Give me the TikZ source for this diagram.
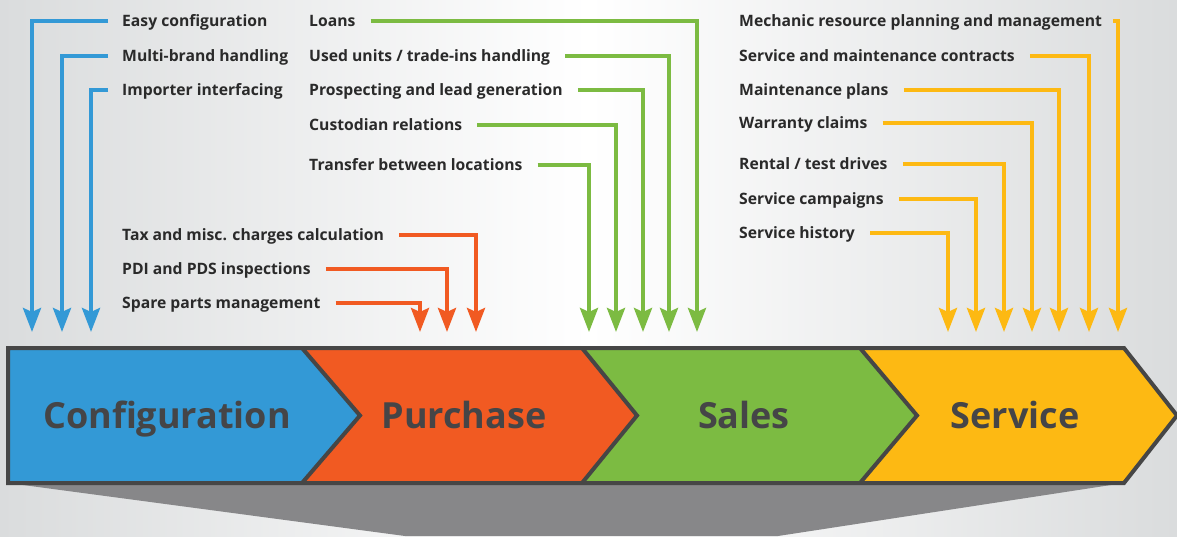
\documentclass[tikz,border=0pt]{standalone}
\usepackage{fontspec}
\setmainfont{Open Sans}
\usetikzlibrary{arrows.meta}
\definecolor{cblue}{HTML}{3399D6}
\definecolor{cred}{HTML}{F15A22}
\definecolor{cgreen}{HTML}{7CBB42}
\definecolor{cyellow}{HTML}{FDB913}
\definecolor{outl}{HTML}{464646}
\definecolor{shadowg}{HTML}{878789}
\definecolor{bgedge}{HTML}{DADCDD}
\definecolor{labtxt}{HTML}{2A2A2A}
\definecolor{headtxt}{HTML}{454547}
\begin{document}
\begin{tikzpicture}[x=1pt,y=-1pt,
  lab/.style={anchor=west, inner sep=0pt, font=\fontsize{15.7}{18}\selectfont\bfseries, text=labtxt, text height=11.2pt, text depth=0pt},
  conn/.style={line width=4pt, -{Stealth[length=24pt,width=18pt,inset=4pt]}},
  head/.style={inner sep=0pt, font=\fontsize{36}{40}\selectfont\bfseries, text=headtxt, text height=25.7pt, text depth=0pt},
  bar/.style={outl, line width=4pt, line join=miter}
]
\useasboundingbox (0,0) rectangle (1177,536);
\shade[left color=bgedge, right color=bgedge, middle color=white] (0,0) rectangle (1177,536);

% shadow below the bar
\fill[shadowg] (8,483) -- (1124,483) -- (778,536) -- (405,536) -- cycle;

% chevrons
\fill[cblue] (8,348) -- (302,348) -- (360,415.5) -- (302,483) -- (8,483) -- cycle;
\fill[cred] (302,348) -- (582,348) -- (637,415.5) -- (582,483) -- (302,483) -- (360,415.5) -- cycle;
\fill[cgreen] (582,348) -- (860,348) -- (917,415.5) -- (860,483) -- (582,483) -- (637,415.5) -- cycle;
\fill[cyellow] (860,348) -- (1124,348) -- (1177,415.5) -- (1124,483) -- (860,483) -- (917,415.5) -- cycle;
\draw[bar] (8,348) -- (1124,348) -- (1177,415.5) -- (1124,483) -- (8,483) -- cycle;
\draw[bar] (302,348) -- (360,415.5) -- (302,483);
\draw[bar] (582,348) -- (637,415.5) -- (582,483);
\draw[bar] (860,348) -- (917,415.5) -- (860,483);

\node[head] (hconf) at (167,416) {Configuration};
\node[head] (hpur) at (464,416) {Purchase};
\node[head] (hsal) at (744,416) {Sales};
\node[head] (hser) at (1015,416) {Service};

% arrow tip coordinates
\coordinate (tb1) at (32,332);
\coordinate (tb2) at (62,332);
\coordinate (tb3) at (91,332);
\coordinate (tr1) at (420,332);
\coordinate (tr2) at (447,332);
\coordinate (tr3) at (476,332);
\coordinate (tg1) at (589,332);
\coordinate (tg2) at (616,332);
\coordinate (tg3) at (643,332);
\coordinate (tg4) at (669,332);
\coordinate (tg5) at (697,332);
\coordinate (ty1) at (948,332);
\coordinate (ty2) at (976,332);
\coordinate (ty3) at (1004,332);
\coordinate (ty4) at (1032,332);
\coordinate (ty5) at (1059,332);
\coordinate (ty6) at (1089,332);
\coordinate (ty7) at (1118,332);

% configuration labels
\node[lab] (b1) at (122,21) {Easy configuration};
\node[lab] (b2) at (122,56) {Multi-brand handling};
\node[lab] (b3) at (122,90) {Importer interfacing};
\draw[conn, cblue] ([xshift=-14pt]b1.west) -| (tb1);
\draw[conn, cblue] ([xshift=-14pt]b2.west) -| (tb2);
\draw[conn, cblue] ([xshift=-14pt]b3.west) -| (tb3);

% purchase labels
\node[lab] (r1) at (122,235) {Tax and misc. charges calculation};
\node[lab] (r2) at (122,269) {PDI and PDS inspections};
\node[lab] (r3) at (122,303) {Spare parts management};
\draw[conn, cred] ([xshift=15pt]r1.east) -| (tr3);
\draw[conn, cred] ([xshift=15pt]r2.east) -| (tr2);
\draw[conn, cred] ([xshift=15pt]r3.east) -| (tr1);

% sales labels
\node[lab] (g1) at (309,21) {Loans};
\node[lab] (g2) at (309,56) {Used units / trade-ins handling};
\node[lab] (g3) at (309,90) {Prospecting and lead generation};
\node[lab] (g4) at (309,125) {Custodian relations};
\node[lab] (g5) at (309,165) {Transfer between locations};
\draw[conn, cgreen] ([xshift=15pt]g1.east) -| (tg5);
\draw[conn, cgreen] ([xshift=15pt]g2.east) -| (tg4);
\draw[conn, cgreen] ([xshift=15pt]g3.east) -| (tg3);
\draw[conn, cgreen] ([xshift=15pt]g4.east) -| (tg2);
\draw[conn, cgreen] ([xshift=15pt]g5.east) -| (tg1);

% service labels
\node[lab] (y1) at (739,21) {Mechanic resource planning and management};
\node[lab] (y2) at (739,56) {Service and maintenance contracts};
\node[lab] (y3) at (739,90) {Maintenance plans};
\node[lab] (y4) at (739,123) {Warranty claims};
\node[lab] (y5) at (739,164) {Rental / test drives};
\node[lab] (y6) at (739,199) {Service campaigns};
\node[lab] (y7) at (739,233) {Service history};
\draw[conn, cyellow] ([xshift=11pt]y1.east) -| (ty7);
\draw[conn, cyellow] ([xshift=15pt]y2.east) -| (ty6);
\draw[conn, cyellow] ([xshift=15pt]y3.east) -| (ty5);
\draw[conn, cyellow] ([xshift=15pt]y4.east) -| (ty4);
\draw[conn, cyellow] ([xshift=15pt]y5.east) -| (ty3);
\draw[conn, cyellow] ([xshift=15pt]y6.east) -| (ty2);
\draw[conn, cyellow] ([xshift=15pt]y7.east) -| (ty1);
\end{tikzpicture}
\end{document}
